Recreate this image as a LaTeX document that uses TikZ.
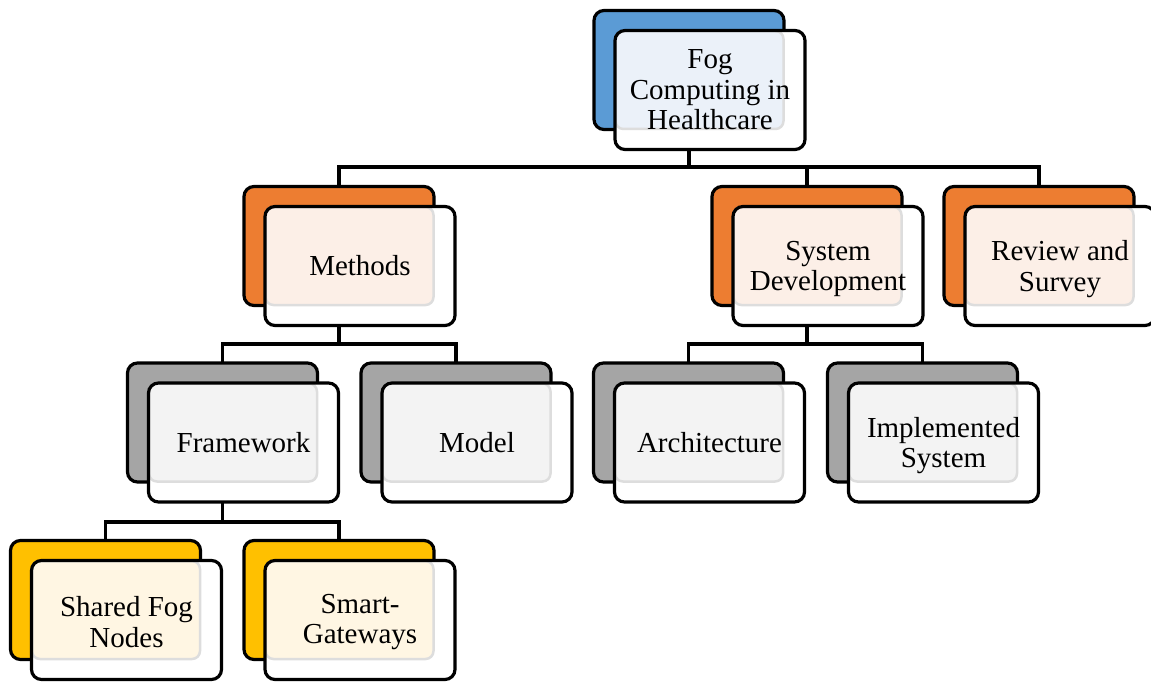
\documentclass[tikz,border=0pt]{standalone}
\usepackage{fontspec}
\setmainfont{Liberation Serif}
\usetikzlibrary{calc}
\definecolor{blueB}{HTML}{5B9BD5}
\definecolor{blueT}{HTML}{EBF1F9}
\definecolor{orangeB}{HTML}{ED7D31}
\definecolor{orangeT}{HTML}{FCEFE7}
\definecolor{grayB}{HTML}{A5A5A5}
\definecolor{grayT}{HTML}{F3F3F3}
\definecolor{goldB}{HTML}{FFC000}
\definecolor{goldT}{HTML}{FFF6E3}
\definecolor{tintline}{HTML}{DDDDDD}
\tikzset{
  backbox/.style={draw=black, line width=3.2pt, rounded corners=10pt, minimum width=190pt, minimum height=119pt, inner sep=0pt},
  frontfill/.style={fill=white, rounded corners=10pt, minimum width=190pt, minimum height=119pt, inner sep=0pt},
  tintbox/.style={draw=tintline, line width=2.5pt, rounded corners=8pt, minimum width=168pt, minimum height=98pt, inner sep=0pt},
  frontline/.style={draw=black, line width=3.2pt, rounded corners=10pt, minimum width=190pt, minimum height=119pt, inner sep=0pt},
  txt/.style={align=center, inner sep=0pt, font=\fontsize{29}{30.5}\selectfont},
  conn/.style={draw=black, line width=3.2pt}
}
\newcommand\orgitem[7][0]{%
  \node[backbox, fill=#5] (#2B) at (#3,#4) {};
  \node[frontfill] (#2) at ($(#2B)+(21,20)$) {};
  \node[tintbox, fill=#6] (#2T) at ($(#2B)+(10.5,10)$) {};
  \node[frontline] (#2L) at (#2) {};
  \node[txt] (#2X) at ($(#2)+(0,#1)$) {#7};
}
\begin{document}
\begin{tikzpicture}[x=1pt,y=-1pt]
\useasboundingbox (0,0) rectangle (1151,682);
\coordinate (bar1) at (0,167);
\coordinate (bar2) at (0,344);
\coordinate (bar3) at (0,522);
\coordinate (topBc) at (689,70);
\coordinate (methBc) at (339,246);
\coordinate (sysBc) at (807,246);
\coordinate (revBc) at (1039,246);
\coordinate (fwBc) at (222.5,422.5);
\coordinate (modBc) at (456,422.5);
\coordinate (arcBc) at (688.5,422.5);
\coordinate (impBc) at (922.5,422.5);
\coordinate (shBc) at (105.5,600);
\coordinate (smBc) at (339,600);
% connectors (behind boxes)
\draw[conn] (methBc) -- (methBc |- bar1) -- (revBc |- bar1) -- (revBc);
\draw[conn] (sysBc) -- (sysBc |- bar1);
\draw[conn] (fwBc) -- (fwBc |- bar2) -- (modBc |- bar2) -- (modBc);
\draw[conn] (arcBc) -- (arcBc |- bar2) -- (impBc |- bar2) -- (impBc);
\draw[conn] (shBc) -- (shBc |- bar3) -- (smBc |- bar3) -- (smBc);
% boxes
\orgitem{top}{689}{70}{blueB}{blueT}{Fog\\Computing in\\Healthcare}
\orgitem{meth}{339}{246}{orangeB}{orangeT}{Methods}
\orgitem[3]{sys}{807}{246}{orangeB}{orangeT}{System\\Development}
\orgitem[3]{rev}{1039}{246}{orangeB}{orangeT}{Review and\\Survey}
\orgitem{fw}{222.5}{422.5}{grayB}{grayT}{Framework}
\orgitem{mod}{456}{422.5}{grayB}{grayT}{Model}
\orgitem{arc}{688.5}{422.5}{grayB}{grayT}{Architecture}
\orgitem[3]{imp}{922.5}{422.5}{grayB}{grayT}{Implemented\\System}
\orgitem[2]{sh}{105.5}{600}{goldB}{goldT}{Shared Fog\\Nodes}
\orgitem[2]{sm}{339}{600}{goldB}{goldT}{Smart-\\Gateways}
% connector stubs from parents
\draw[conn] (top.south -| topBc) -- (topBc |- bar1);
\draw[conn] (meth.south -| methBc) -- (methBc |- bar2);
\draw[conn] (sys.south -| sysBc) -- (sysBc |- bar2);
\draw[conn] (fw.south -| fwBc) -- (fwBc |- bar3);
\end{tikzpicture}
\end{document}
